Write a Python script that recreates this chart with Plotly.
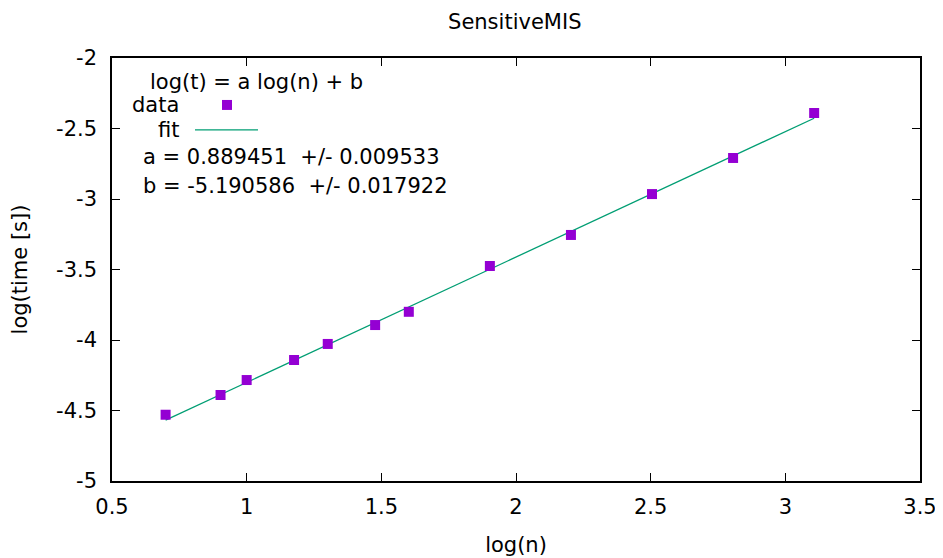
import numpy as np
import plotly.graph_objects as go

# 量測資料 (log10 n, log10 t)
log_n = [0.699, 0.903, 1.0, 1.176, 1.301, 1.477, 1.602, 1.903, 2.204, 2.505, 2.806, 3.107]
log_t = [-4.53, -4.39, -4.284, -4.142, -4.028, -3.894, -3.80, -3.475, -3.255, -2.965, -2.709, -2.39]

# 擬合參數
fit_a = 0.889451
fit_b = -5.190586
fit_a_err = 0.009533
fit_b_err = 0.017922

x_ticks = [0.5, 1, 1.5, 2, 2.5, 3, 3.5]
y_ticks = [-5, -4.5, -4, -3.5, -3, -2.5, -2]

FONT = "DejaVu Sans"
FS = 21
PURPLE = "#9400D3"
GREEN = "#009E73"

fit_x = np.array([min(log_n), max(log_n)])
fit_y = fit_a * fit_x + fit_b

fig = go.Figure()

fig.add_trace(go.Scatter(x=fit_x, y=fit_y, mode="lines",
                         line=dict(color=GREEN, width=1.3), showlegend=False))
fig.add_trace(go.Scatter(x=log_n, y=log_t, mode="markers",
                         marker=dict(symbol="square", size=10, color=PURPLE,
                                     line=dict(width=0)),
                         showlegend=False))

axis_common = dict(showline=True, linecolor="black", linewidth=1.5, mirror="allticks",
                   ticks="inside", ticklen=8, tickcolor="black", tickwidth=1,
                   showgrid=False, zeroline=False, automargin=False,
                   tickfont=dict(family=FONT, size=FS, color="black"))

fig.update_xaxes(range=[0.5, 3.5], tickvals=x_ticks, ticktext=[f"{v:g}" for v in x_ticks],
                 title=dict(text="log(n)", font=dict(family=FONT, size=FS), standoff=19),
                 ticklabelstandoff=6, **axis_common)
fig.update_yaxes(range=[-5, -2], tickvals=y_ticks, ticktext=[f"{v:g}" for v in y_ticks],
                 title=dict(text="log(time [s])", font=dict(family=FONT, size=FS), standoff=24),
                 ticklabelstandoff=9, **axis_common)

# 圖例 / 擬合結果文字
notes = [
    ("log(t) = a log(n) + b", 0.0446, 0.943, "left"),
    ("data", 0.0854, 0.889, "right"),
    ("fit", 0.0854, 0.830, "right"),
    (f"a = {fit_a:f}  +/- {fit_a_err:f}", 0.0359, 0.766, "left"),
    (f"b = {fit_b:f}  +/- {fit_b_err:f}", 0.0359, 0.697, "left"),
]
for text, x, y, anchor in notes:
    fig.add_annotation(text=text.replace("  ", "&nbsp; "), x=x, y=y, xref="paper", yref="paper",
                       xanchor=anchor, yanchor="middle", showarrow=False,
                       font=dict(family=FONT, size=FS, color="black"))

# 圖例樣本
fig.add_shape(type="rect", xref="paper", yref="paper",
              x0=0.1423 - 0.0062, x1=0.1423 + 0.0062, y0=0.889 - 0.0118, y1=0.889 + 0.0118,
              fillcolor=PURPLE, line=dict(width=0))
fig.add_shape(type="line", xref="paper", yref="paper",
              x0=0.1027, x1=0.1807, y0=0.830, y1=0.830,
              line=dict(color=GREEN, width=1.3))

# 頁面 body 有 8px 邊距, 圖表尺寸扣掉
fig.update_layout(
    width=935, height=550,
    margin=dict(l=104, r=23, t=50, b=77),
    plot_bgcolor="white", paper_bgcolor="white",
    title=dict(text="SensitiveMIS", x=0.542, xanchor="center", y=0.9745, yanchor="middle",
               font=dict(family=FONT, size=FS, color="black")),
    font=dict(family=FONT, size=FS, color="black"),
)

fig.write_html("out.html")
